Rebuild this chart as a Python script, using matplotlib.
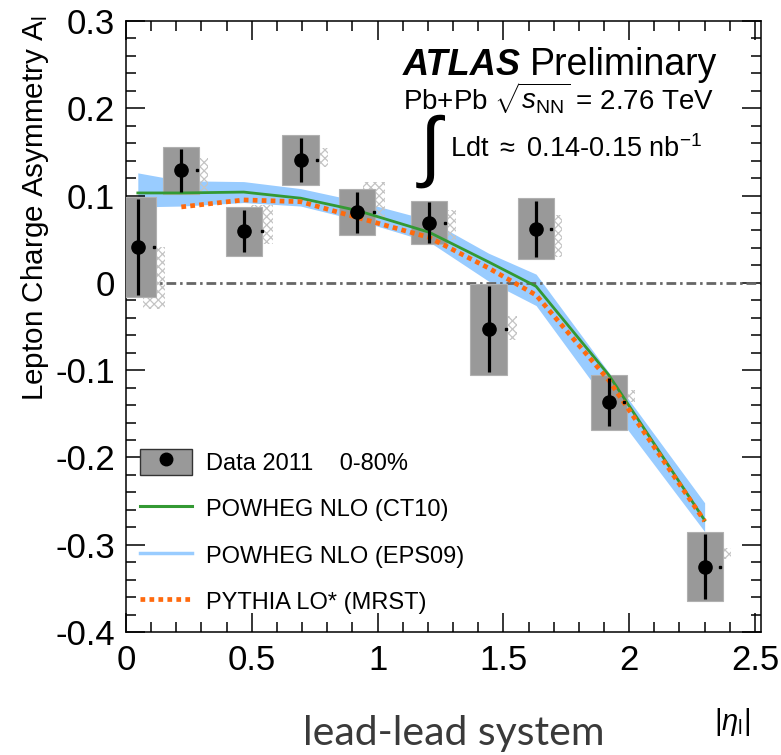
import matplotlib.pyplot as plt
from matplotlib.patches import Rectangle
from matplotlib.lines import Line2D

plt.rcParams['font.family'] = ['Liberation Sans', 'DejaVu Sans']
plt.rcParams['mathtext.fontset'] = 'custom'
plt.rcParams['mathtext.rm'] = 'Liberation Sans'
plt.rcParams['mathtext.it'] = 'Liberation Sans:italic'
plt.rcParams['axes.unicode_minus'] = False
plt.rcParams['hatch.linewidth'] = 0.9

# data 2011, 0-80% centrality
eta = [0.047, 0.22, 0.468, 0.694, 0.918, 1.205, 1.441, 1.63, 1.92, 2.30]
asym = [0.041, 0.129, 0.059, 0.141, 0.081, 0.069, -0.053, 0.062, -0.137, -0.325]
stat_err = [0.055, 0.0245, 0.024, 0.0255, 0.0235, 0.0235, 0.049, 0.032, 0.0275, 0.0375]
sys_err = [0.057, 0.027, 0.028, 0.0285, 0.0265, 0.0245, 0.052, 0.035, 0.032, 0.039]

# second (hatched) systematic set
eta_b = [0.11, 0.281, 0.539, 0.76, 0.986, 1.269, 1.512, 1.69, 1.978, 2.362]
hatch_hi = [0.041, 0.143, 0.089, 0.155, 0.116, 0.083, -0.038, 0.078, -0.123, -0.304]
hatch_lo = [-0.030, 0.103, 0.044, 0.133, 0.073, 0.049, -0.065, 0.030, -0.136, -0.316]

# theory
th_eta = [0.047, 0.22, 0.468, 0.694, 0.918, 1.205, 1.441, 1.63, 1.92, 2.30]
powheg_ct10 = [0.103, 0.103, 0.104, 0.097, 0.083, 0.058, 0.024, -0.004, -0.106, -0.272]
eps09_hi = [0.126, 0.117, 0.116, 0.108, 0.094, 0.072, 0.034, 0.010, -0.103, -0.252]
eps09_lo = [0.087, 0.088, 0.092, 0.088, 0.072, 0.047, 0.002, -0.026, -0.140, -0.285]
pythia_eta = [0.22, 0.468, 0.694, 0.918, 1.205, 1.441, 1.63, 1.92, 2.30]
pythia_mrst = [0.087, 0.095, 0.093, 0.075, 0.052, 0.017, -0.014, -0.112, -0.273]

xticks = [0, 0.5, 1, 1.5, 2, 2.5]
xticklabels = ['0', '0.5', '1', '1.5', '2', '2.5']
yticks = [-0.4, -0.3, -0.2, -0.1, 0, 0.1, 0.2, 0.3]
yticklabels = ['-0.4', '-0.3', '-0.2', '-0.1', '0', '0.1', '0.2', '0.3']

W, H = 781, 755
fig = plt.figure(figsize=(W / 100, H / 100), dpi=100)
ax = fig.add_axes([126 / W, 1 - 632 / H, 635 / W, 611 / H])

gray = '#999999'
ax.fill_between(th_eta, eps09_lo, eps09_hi, color='#99ccff', lw=0, zorder=1)
ax.bar(eta_b, [h - l for h, l in zip(hatch_hi, hatch_lo)], bottom=hatch_lo, width=0.088,
       fill=False, hatch='xxxx', edgecolor='#c4c4c4', linewidth=0, zorder=2)
ax.bar(eta, [2 * s for s in sys_err], bottom=[a - s for a, s in zip(asym, sys_err)], width=0.144,
       color=gray, edgecolor='#b0b0b0', linewidth=0.8, zorder=3)
ax.axhline(0, color='#666666', lw=2.0, ls=(0, (3.5, 1.4, 0.9, 1.4)), zorder=2.5)
ax.plot(th_eta, powheg_ct10, color='#339933', lw=2.0, zorder=4)
ax.plot(pythia_eta, pythia_mrst, color='#ff6a0e', lw=3.4, ls=(0, (1.0, 0.9)),
        dash_capstyle='butt', zorder=4.5)
ax.plot(eta_b, asym, 's', color='k', ms=1.5, zorder=5)
ax.errorbar(eta, asym, yerr=stat_err, fmt='o', color='k', ms=9.5, elinewidth=2.3,
            capsize=0, zorder=6)

ax.set_xlim(0, 2.524)
ax.set_ylim(-0.4, 0.3)
ax.set_xticks(xticks)
ax.set_xticklabels(xticklabels)
ax.set_yticks(yticks)
ax.set_yticklabels(yticklabels)
ax.set_xticks([i / 10 for i in range(26)], minor=True)
ax.set_yticks([-0.4 + i * 0.02 for i in range(36)], minor=True)
ax.tick_params(which='both', direction='in', top=True, right=True, labelsize=25, width=1.1)
ax.tick_params(which='major', length=13.5)
ax.tick_params(which='minor', length=7.5)
ax.tick_params(axis='x', pad=9)
ax.tick_params(axis='y', pad=8)
for sp in ax.spines.values():
    sp.set_linewidth(1.1)

ax.set_ylabel(r'Lepton Charge Asymmetry A$_\mathrm{l}$', fontsize=21.3, loc='top')
ax.yaxis.set_label_coords(-0.118, 1.01)

# legend
h_data = (Rectangle((0, 0), 1, 1, facecolor=gray, edgecolor='#333333', lw=1.0),
          Line2D([], [], marker='o', color='k', ms=9, ls='none'))
h_ct10 = Line2D([], [], color='#339933', lw=2.2)
h_eps = Line2D([], [], color='#99ccff', lw=2.5)
h_py = Line2D([], [], color='#ff6a0e', lw=3.4, ls=(0, (1.0, 0.9)), dash_capstyle='butt')
ax.legend([h_data, h_ct10, h_eps, h_py],
          ['Data 2011    0-80%', 'POWHEG NLO (CT10)', 'POWHEG NLO (EPS09)', 'PYTHIA LO* (MRST)'],
          loc='upper left', bbox_to_anchor=(140 / W, 1 - 449 / H), bbox_transform=fig.transFigure,
          frameon=False, fontsize=17, handlelength=2.2, handleheight=1.3, handletextpad=0.6,
          labelspacing=0.88, borderpad=0, borderaxespad=0)

# text
fig.text(403 / W, 1 - 75 / H, 'ATLAS', fontsize=26, weight='bold', style='italic', va='baseline')
fig.text(530 / W, 1 - 75 / H, 'Preliminary', fontsize=27, va='baseline')
fig.text(403 / W, 1 - 110 / H, r'Pb+Pb $\sqrt{s_{\mathrm{NN}}}$ = 2.76 TeV', fontsize=20, va='baseline')
fig.text(420 / W, 1 - 172 / H, '\u222b', fontsize=56, family='Liberation Sans', va='baseline')
fig.text(450 / W, 1 - 157 / H, r'Ldt $\approx$ 0.14-0.15 nb$^{\mathrm{-1}}$', fontsize=19.5, va='baseline')

fig.text(750 / W, 1 - 730 / H, r'$|\eta_{\mathrm{l}}|$', fontsize=21, ha='right', va='baseline')
fig.text(454 / W, 1 - 745 / H, 'lead-lead system', fontsize=29.5, family='Lato', color='#3a3a3a',
         ha='center', va='baseline')

fig.savefig('out.png', dpi=100)
